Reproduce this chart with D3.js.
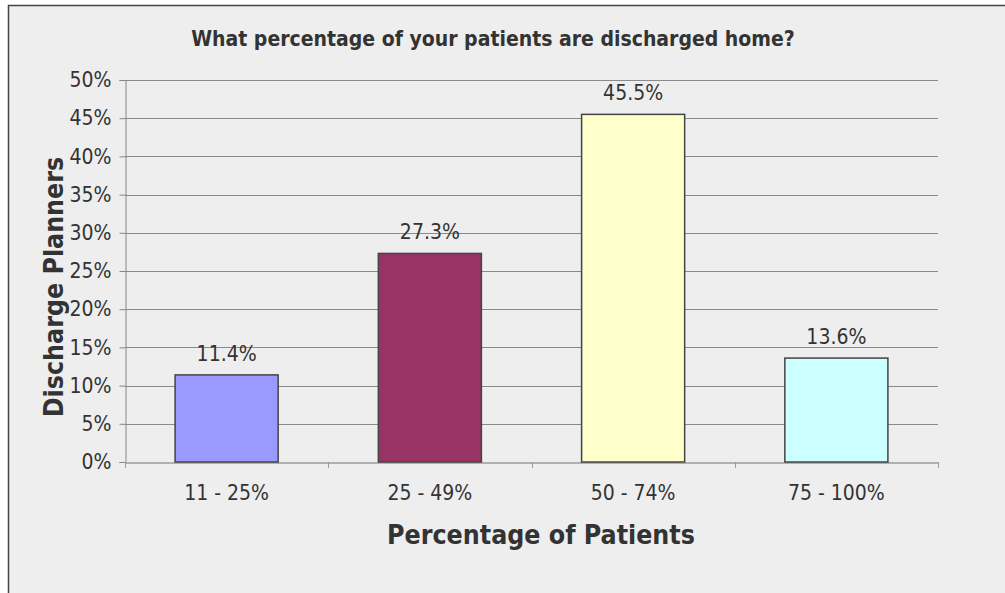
<!DOCTYPE html>
<html><head><meta charset="utf-8">
<script src="https://cdn.jsdelivr.net/npm/d3@7"></script>
<style>body{margin:0;background:#fff}svg{display:block}text{font-family:"DejaVu Sans Condensed","DejaVu Sans",sans-serif;fill:#333}</style>
</head><body><div id="c"></div>
<script>
const categories = ["11 - 25%", "25 - 49%", "50 - 74%", "75 - 100%"];
const values = [11.4, 27.3, 45.5, 13.6];
const colors = ["#9999ff", "#993366", "#ffffcc", "#ccffff"];
const yTicks = [0, 5, 10, 15, 20, 25, 30, 35, 40, 45, 50];
const title = "What percentage of your patients are discharged home?";
const xTitle = "Percentage of Patients";
const yTitle = "Discharge Planners";

const FONT = '"DejaVu Sans Condensed","DejaVu Sans",sans-serif';
const W = 1005, H = 593;
const svg = d3.select("#c").append("svg").attr("width", W).attr("height", H);
svg.append("rect").attr("x", 8.5).attr("y", 5.5).attr("width", W + 10).attr("height", H + 10)
  .attr("fill", "#eeeeee").attr("stroke", "#444").attr("stroke-width", 1.5);

const L = 125, R = 938, T = 80, B = 462;
const x = d3.scaleBand().domain(categories).range([L, R]).paddingInner(0.493).paddingOuter(0.2465);
const xb = d3.scaleBand().domain(categories).range([L, R]);
const y = d3.scaleLinear().domain([0, 50]).range([B, T]);

svg.append("g").selectAll("line").data(yTicks.filter(d => d > 0)).join("line")
  .attr("x1", L).attr("x2", R).attr("y1", d => Math.round(y(d)) + 0.5).attr("y2", d => Math.round(y(d)) + 0.5)
  .attr("stroke", "#8a8a8a").attr("stroke-width", 1);

const ya = svg.append("g").attr("transform", `translate(${L + 0.5},0)`)
  .call(d3.axisLeft(y).tickValues(yTicks).tickFormat(d => d + "%").tickSize(6).tickPadding(8));
ya.select(".domain").attr("stroke", "#888");
ya.selectAll(".tick line").attr("stroke", "#888");
ya.selectAll(".tick text").attr("font-size", 21).attr("fill", "#333").attr("font-family", FONT);

const xa = svg.append("g").attr("transform", `translate(0,${B + 0.5})`)
  .call(d3.axisBottom(xb).tickSize(0).tickPadding(23));
xa.select(".domain").attr("stroke", "#b0b0b0").attr("stroke-width", 2);
xa.selectAll(".tick text").attr("font-size", 21).attr("fill", "#333").attr("font-family", FONT);
svg.append("g").selectAll("line").data(categories.concat([null])).join("line")
  .attr("x1", (d, i) => Math.round(L + i * xb.step()) + 0.5).attr("x2", (d, i) => Math.round(L + i * xb.step()) + 0.5)
  .attr("y1", B).attr("y2", B + 6).attr("stroke", "#999");

svg.append("g").selectAll("rect").data(values).join("rect")
  .attr("x", (d, i) => x(categories[i])).attr("width", x.bandwidth())
  .attr("y", d => y(d)).attr("height", d => B - y(d))
  .attr("fill", (d, i) => colors[i]).attr("stroke", "#444").attr("stroke-width", 1.5);

svg.append("g").selectAll("text").data(values).join("text")
  .attr("x", (d, i) => x(categories[i]) + x.bandwidth() / 2).attr("y", d => y(d) - 14)
  .attr("text-anchor", "middle").attr("font-size", 21).text(d => d.toFixed(1) + "%");

svg.append("text").attr("x", 493).attr("y", 46).attr("text-anchor", "middle")
  .attr("font-size", 21).attr("font-weight", "bold").text(title);
svg.append("text").attr("x", 541).attr("y", 544).attr("text-anchor", "middle")
  .attr("font-size", 26.5).attr("font-weight", "bold").text(xTitle);
svg.append("text").attr("transform", "translate(63,287) rotate(-90)").attr("text-anchor", "middle")
  .attr("font-size", 26.5).attr("font-weight", "bold").text(yTitle);
</script></body></html>
